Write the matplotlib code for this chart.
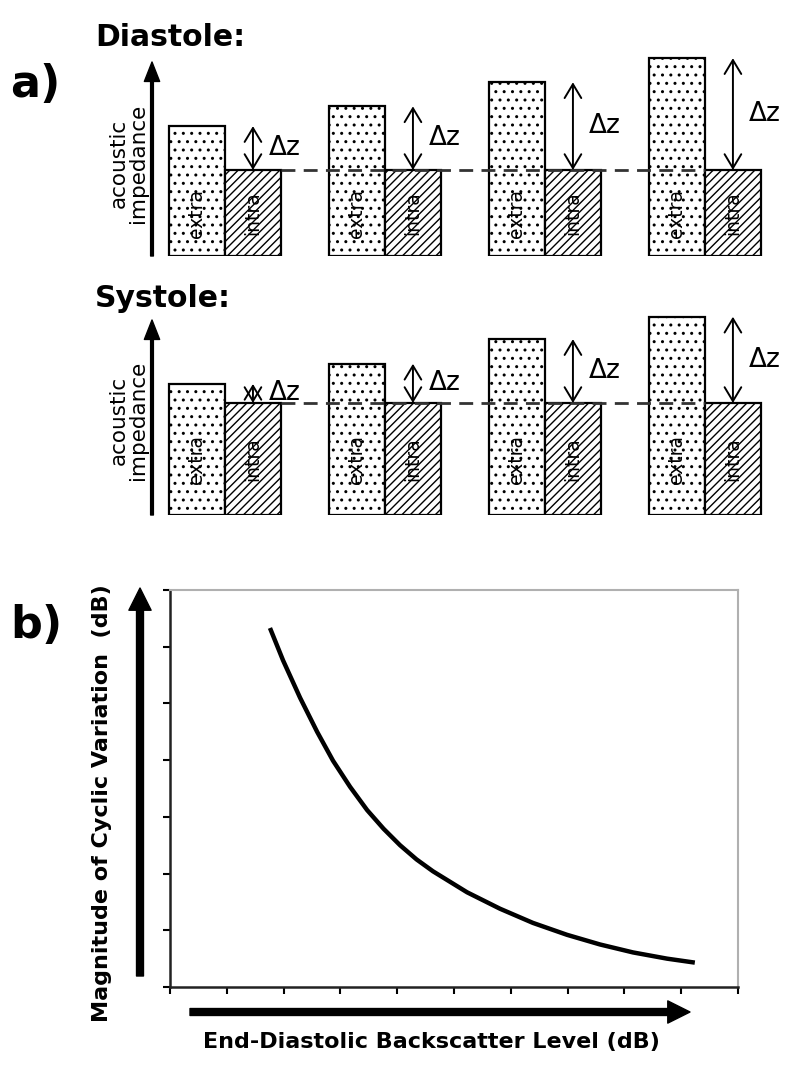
import matplotlib
matplotlib.use("Agg")
import matplotlib.pyplot as plt
from matplotlib.patches import ArrowStyle
import numpy as np

W, H = 800, 1068

# panel a: acoustic impedance, extra- vs intracellular, 4 cases
groups = [0, 1, 2, 3]
extra_dia = [1.51, 1.74, 2.02, 2.30]
intra_dia = [1.0, 1.0, 1.0, 1.0]
extra_sys = [1.17, 1.35, 1.57, 1.77]
intra_sys = [1.0, 1.0, 1.0, 1.0]

# panel b: cyclic variation vs end-diastolic backscatter
curve_x = [1.76, 1.99, 2.29, 2.59, 2.87, 3.17, 3.47, 3.76, 4.05, 4.34, 4.63, 5.23, 5.81,
           6.39, 6.99, 7.57, 8.15, 8.75, 9.24]
curve_y = [6.33, 5.76, 5.10, 4.50, 3.99, 3.53, 3.12, 2.79, 2.50, 2.25, 2.04, 1.67, 1.38,
           1.13, 0.92, 0.75, 0.61, 0.50, 0.43]


def fx(px):
    return px / W


def fy(py):
    return 1 - py / H


fig = plt.figure(figsize=(W / 100, H / 100), dpi=100)

bw = 0.35


def bars(ax, extra, intra, top_frac):
    g = np.array(groups)
    ax.bar(g - bw / 2, extra, bw, color='white', edgecolor='black', hatch='..', lw=1.6, zorder=2)
    ax.bar(g + bw / 2, intra, bw, color='white', edgecolor='black', hatch='////', lw=1.6, zorder=2)
    ax.hlines(intra[0], g[0] + bw, g[-1], colors='#333333', lw=2, linestyles=(0, (5, 3)), zorder=3)
    for c, e, i in zip(g, extra, intra):
        ax.annotate('', xy=(c + bw / 2, i), xytext=(c + bw / 2, e),
                    arrowprops=dict(arrowstyle='<->,head_length=0.5,head_width=0.3', lw=1.4,
                                    color='black', shrinkA=0, shrinkB=0, mutation_scale=20), zorder=4)
        ax.text(c + bw / 2 + 0.1, (e + i) / 2, '\u0394z', fontsize=19, ha='left', va='center')
        ax.text(c - bw / 2, 0.5 * i, 'extra', rotation=90, fontsize=13.5, ha='center', va='center', zorder=5)
        ax.text(c + bw / 2, 0.5 * i, 'intra', rotation=90, fontsize=13.5, ha='center', va='center', zorder=5)
    ax.set_xlim(-0.456, 3.563)
    ax.annotate('', xy=(0, top_frac), xytext=(0, 0), xycoords='axes fraction',
                arrowprops=dict(arrowstyle=ArrowStyle.Simple(head_length=14, head_width=11, tail_width=2),
                                mutation_scale=1, color='black', shrinkA=0, shrinkB=0))
    ax.axis('off')


ax_d = fig.add_axes([fx(152), fy(256), (795 - 152) / W, (256 - 50) / H])
ax_d.set_ylim(0, 206 / 86)
bars(ax_d, extra_dia, intra_dia, (256 - 62) / 206)

ax_s = fig.add_axes([fx(152), fy(515), (795 - 152) / W, (515 - 310) / H])
ax_s.set_ylim(0, 205 / 112)
bars(ax_s, extra_sys, intra_sys, (515 - 320) / 205)

fig.text(fx(95), fy(46), 'Diastole:', fontsize=21.5, fontweight='bold', va='baseline')
fig.text(fx(95), fy(307), 'Systole:', fontsize=21.5, fontweight='bold', va='baseline')
fig.text(fx(10), fy(97), 'a)', fontsize=32, fontweight='bold', va='baseline')
fig.text(fx(10), fy(638), 'b)', fontsize=32, fontweight='bold', va='baseline')
for yc in (163, 420):
    fig.text(fx(128), fy(yc), 'acoustic\nimpedance', rotation=90, fontsize=15.5,
             ha='center', va='center', linespacing=0.95)

# panel b
ax_b = fig.add_axes([fx(170), fy(987), (738 - 170) / W, (987 - 590) / H])
ax_b.plot(curve_x, curve_y, color='black', lw=3.2, solid_capstyle='butt', solid_joinstyle='round')
ax_b.set_xlim(0, 10)
ax_b.set_ylim(0, 7)
ax_b.set_xticks(range(11))
ax_b.set_yticks(range(8))
ax_b.tick_params(labelbottom=False, labelleft=False, length=5, width=1.5, direction='out')
for s in ('top', 'right'):
    ax_b.spines[s].set_color('#b0b0b0')
    ax_b.spines[s].set_linewidth(1.5)
for s in ('left', 'bottom'):
    ax_b.spines[s].set_color('#222222')
    ax_b.spines[s].set_linewidth(1.8)

big = ArrowStyle.Simple(head_length=16, head_width=16, tail_width=5)
ax_b.annotate('', xy=(fx(140), fy(588)), xytext=(fx(140), fy(976)), xycoords='figure fraction',
              arrowprops=dict(arrowstyle=big, mutation_scale=1, color='black', shrinkA=0, shrinkB=0))
ax_b.annotate('', xy=(fx(690), fy(1012)), xytext=(fx(190), fy(1012)), xycoords='figure fraction',
              arrowprops=dict(arrowstyle=big, mutation_scale=1, color='black', shrinkA=0, shrinkB=0))

fig.text(fx(431), fy(1042), 'End-Diastolic Backscatter Level (dB)', fontsize=16,
         fontweight='bold', ha='center', va='center')
fig.text(fx(102), fy(803), 'Magnitude of Cyclic Variation  (dB)', fontsize=16,
         fontweight='bold', ha='center', va='center', rotation=90)

fig.savefig('out.png', dpi=100)
